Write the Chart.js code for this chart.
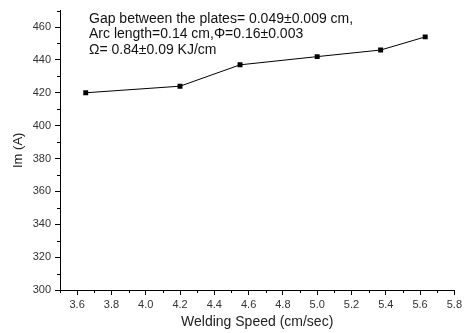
<!DOCTYPE html>
<html>
<head>
<meta charset="utf-8">
<script src="https://cdn.jsdelivr.net/npm/chart.js@4.4.0/dist/chart.umd.min.js"></script>
<style>
  html, body { margin: 0; padding: 0; background: #fff; }
  #wrap { width: 465px; height: 333px; }
</style>
</head>
<body>
<div id="wrap"><canvas id="chart" width="465" height="333"></canvas></div>
<script>
// --- data ---
const speed = [3.65, 4.2, 4.55, 5.0, 5.37, 5.63];
const current = [420, 424, 437, 442, 446, 454];
const xTicks = [3.6, 3.8, 4.0, 4.2, 4.4, 4.6, 4.8, 5.0, 5.2, 5.4, 5.6, 5.8];
const xMinor = [3.5, 3.7, 3.9, 4.1, 4.3, 4.5, 4.7, 4.9, 5.1, 5.3, 5.5, 5.7];
const yTicks = [300, 320, 340, 360, 380, 400, 420, 440, 460];
const yMinor = [310, 330, 350, 370, 390, 410, 430, 450, 470];
const noteLines = [
  'Gap between the plates= 0.049\u00b10.009 cm,',
  'Arc length=0.14 cm,\u03a6=0.16\u00b10.003',
  '\u03a9= 0.84\u00b10.09 KJ/cm'
];

const FONT = 'Arial, "Liberation Sans", sans-serif';

// minor ticks + text note
const extras = {
  id: 'extras',
  afterDraw(chart) {
    const ctx = chart.ctx;
    const xs = chart.scales.x, ys = chart.scales.y;
    ctx.save();
    ctx.strokeStyle = '#000';
    ctx.lineWidth = 1;
    ctx.beginPath();
    xMinor.forEach(v => {
      const px = Math.round(xs.getPixelForValue(v)) + 0.5;
      ctx.moveTo(px, ys.bottom);
      ctx.lineTo(px, ys.bottom + 3);
    });
    yMinor.forEach(v => {
      const py = Math.round(ys.getPixelForValue(v)) + 0.5;
      ctx.moveTo(xs.left, py);
      ctx.lineTo(xs.left - 3, py);
    });
    ctx.stroke();

    ctx.fillStyle = '#111';
    ctx.font = '14px ' + FONT;
    ctx.textBaseline = 'middle';
    noteLines.forEach((t, i) => ctx.fillText(t, 89, 19 + i * 15.5));
    ctx.restore();
  }
};

new Chart(document.getElementById('chart'), {
  type: 'line',
  data: {
    datasets: [{
      data: speed.map((s, i) => ({ x: s, y: current[i] })),
      borderColor: '#000',
      borderWidth: 1,
      backgroundColor: '#000',
      pointStyle: 'rect',
      pointRadius: 3.5,
      pointBorderWidth: 0,
      tension: 0
    }]
  },
  options: {
    responsive: false,
    animation: false,
    layout: { padding: { top: 9, right: 7, left: 0, bottom: 0 } },
    plugins: { legend: { display: false }, tooltip: { enabled: false } },
    scales: {
      x: {
        type: 'linear',
        min: 3.5,
        max: 5.8,
        afterBuildTicks: s => { s.ticks = xTicks.map(v => ({ value: v })); },
        afterFit: s => { s.height = 43; },
        border: { color: '#000', width: 1 },
        grid: { drawOnChartArea: false, drawTicks: true, tickLength: 5, tickColor: '#000' },
        ticks: {
          color: '#333',
          font: { family: FONT, size: 11 },
          padding: 3,
          maxRotation: 0,
          autoSkip: false,
          callback: v => v.toFixed(1)
        },
        title: {
          display: true,
          text: 'Welding Speed (cm/sec)',
          color: '#222',
          font: { family: FONT, size: 14 },
          padding: { top: 0, bottom: 2 }
        }
      },
      y: {
        min: 300,
        max: 470,
        afterBuildTicks: s => { s.ticks = yTicks.map(v => ({ value: v })); },
        afterFit: s => { s.width = 60; },
        border: { color: '#000', width: 1 },
        grid: { drawOnChartArea: false, drawTicks: true, tickLength: 5, tickColor: '#000' },
        ticks: {
          color: '#333',
          font: { family: FONT, size: 11 },
          padding: 4,
          callback: v => String(v)
        },
        title: {
          display: true,
          text: 'Im (A)',
          color: '#222',
          font: { family: FONT, size: 13 },
          padding: { top: 10.5, bottom: 0 }
        }
      }
    }
  },
  plugins: [extras]
});
</script>
</body>
</html>
